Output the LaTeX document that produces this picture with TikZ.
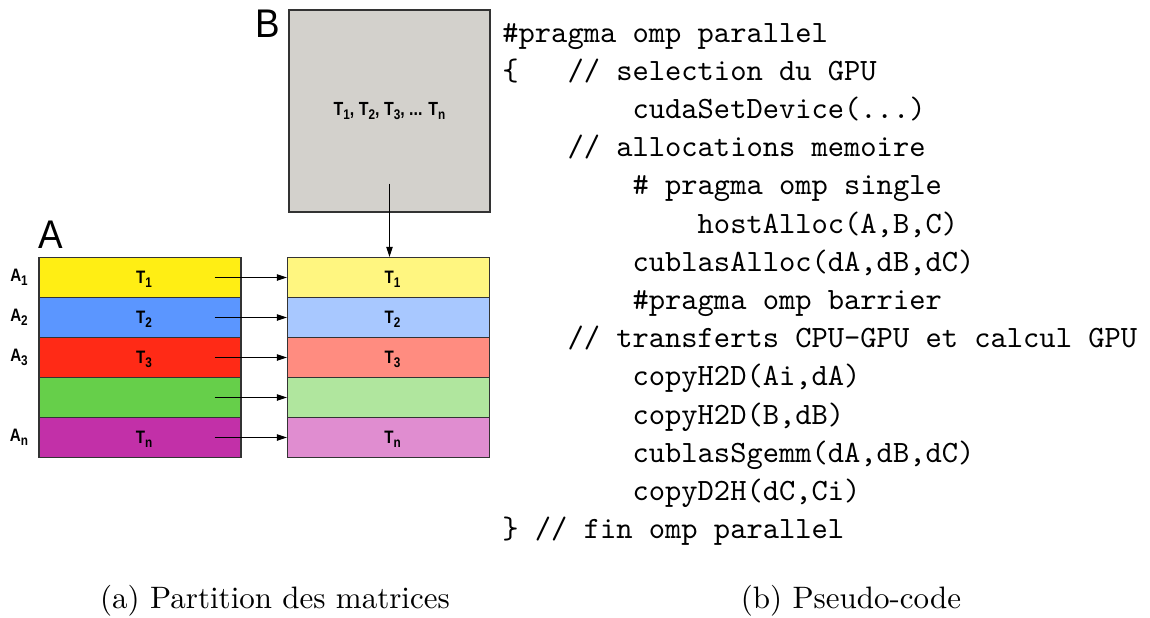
\documentclass[tikz,border=0pt]{standalone}
\usepackage{fontspec}
\usepackage{graphicx}
\usetikzlibrary{arrows.meta}
\newfontfamily\lblfont{Liberation Sans}[FakeStretch=0.84]
\newfontfamily\bigsans{Liberation Sans}[FakeStretch=0.92]

\definecolor{aYellow}{HTML}{FFEE14}
\definecolor{aBlue}{HTML}{5B96FF}
\definecolor{aRed}{HTML}{FF2A16}
\definecolor{aGreen}{HTML}{66CF4A}
\definecolor{aMagenta}{HTML}{C230A8}
\definecolor{tYellow}{HTML}{FFF680}
\definecolor{tBlue}{HTML}{A8C8FF}
\definecolor{tRed}{HTML}{FF8C80}
\definecolor{tGreen}{HTML}{B0E69E}
\definecolor{tMagenta}{HTML}{E08DD0}
\definecolor{bGray}{HTML}{D3D1CC}
\definecolor{edgeGray}{HTML}{333333}

\newcommand\codetext[1]{\scalebox{1.55}{\ttfamily #1}}
\newcommand\captext[1]{\scalebox{1.55}{\rmfamily #1}}
\newcommand\sub[1]{\raisebox{-0.22em}{\fontsize{7}{8}\selectfont #1}}

\begin{document}
\begin{tikzpicture}[x=0.5pt,y=-0.5pt,
  row/.style={draw=edgeGray,line width=0.6pt,minimum width=101pt,minimum height=20pt,
    inner sep=0pt,text depth=0pt,font=\lblfont\bfseries\fontsize{9}{10}\selectfont},
  rowlbl/.style={inner sep=0pt,font=\lblfont\bfseries\fontsize{9}{10}\selectfont},
  biglbl/.style={inner sep=0pt,anchor=base west,font=\bigsans\fontsize{20}{22}\selectfont},
  link/.style={line width=0.55pt,-{Triangle[length=5pt,width=3.2pt]}},
  codeline/.style={inner sep=0pt,anchor=base west},
  caption/.style={inner sep=0pt,anchor=base}]
\useasboundingbox (0,0) rectangle (1150,617);

% matrix B
\node[draw=edgeGray,line width=0.6pt,fill=bGray,minimum width=100.5pt,minimum height=101pt,
  inner sep=0pt,font=\lblfont\bfseries\fontsize{9.5}{10}\selectfont]
  (B) at (389.5,111) {T\sub{1}, T\sub{2}, T\sub{3}, ... T\sub{n}};
\node[biglbl] (Blbl) at (255,37) {B};

% matrix A, split into blocks
\node[biglbl] (Albl) at (38,248) {A};
\node[row,fill=aYellow]  (L1) at (140,277.5) {\hspace*{4pt}T\sub{1}};
\node[row,fill=aBlue]    (L2) at (140,317.5) {\hspace*{4pt}T\sub{2}};
\node[row,fill=aRed]     (L3) at (140,357.5) {\hspace*{4pt}T\sub{3}};
\node[row,fill=aGreen]   (L4) at (140,397.5) {};
\node[row,fill=aMagenta] (L5) at (140,437.5) {\hspace*{4pt}T\sub{n}};

\node[rowlbl] (a1) at (19,277.5) {A\sub{1}};
\node[rowlbl] (a2) at (19,317.5) {A\sub{2}};
\node[rowlbl] (a3) at (19,357.5) {A\sub{3}};
\node[rowlbl] (an) at (19,437.5) {A\sub{n}};

% blocks on the GPU side
\node[row,fill=tYellow]  (R1) at (388.5,277.5) {\hspace*{4pt}T\sub{1}};
\node[row,fill=tBlue]    (R2) at (388.5,317.5) {\hspace*{4pt}T\sub{2}};
\node[row,fill=tRed]     (R3) at (388.5,357.5) {\hspace*{4pt}T\sub{3}};
\node[row,fill=tGreen]   (R4) at (388.5,397.5) {};
\node[row,fill=tMagenta] (R5) at (388.5,437.5) {\hspace*{4pt}T\sub{n}};

% transfers
\foreach \i in {1,...,5}
  \draw[link] ([xshift=-13.5pt]L\i.east) -- (R\i.west);
\draw[link] ([yshift=14.5pt]B.south) -- (B.south |- R1.north);

% pseudo-code
\node[codeline] (c0)  at (502,42)    {\codetext{\#pragma omp parallel}};
\node[codeline] (c1)  at (502,80.2)  {\codetext{\{\ \ \ // selection du GPU}};
\node[codeline] (c2)  at (632.2,118.4) {\codetext{cudaSetDevice(...)}};
\node[codeline] (c3)  at (567.1,156.6) {\codetext{// allocations memoire}};
\node[codeline] (c4)  at (632.2,194.8) {\codetext{\# pragma omp single}};
\node[codeline] (c5)  at (697.3,233)   {\codetext{hostAlloc(A,B,C)}};
\node[codeline] (c6)  at (632.2,271.2) {\codetext{cublasAlloc(dA,dB,dC)}};
\node[codeline] (c7)  at (632.2,309.4) {\codetext{\#pragma omp barrier}};
\node[codeline] (c8)  at (567.1,347.6) {\codetext{// transferts CPU-GPU et calcul GPU}};
\node[codeline] (c9)  at (632.2,385.8) {\codetext{copyH2D(Ai,dA)}};
\node[codeline] (c10) at (632.2,424)   {\codetext{copyH2D(B,dB)}};
\node[codeline] (c11) at (632.2,462.2) {\codetext{cublasSgemm(dA,dB,dC)}};
\node[codeline] (c12) at (632.2,500.4) {\codetext{copyD2H(dC,Ci)}};
\node[codeline] (c13) at (502,538.6)   {\codetext{\} // fin omp parallel}};

% captions
\node[caption] (capa) at (275,608) {\captext{(a) Partition des matrices}};
\node[caption] (capb) at (851,608) {\captext{(b) Pseudo-code}};
\end{tikzpicture}
\end{document}
